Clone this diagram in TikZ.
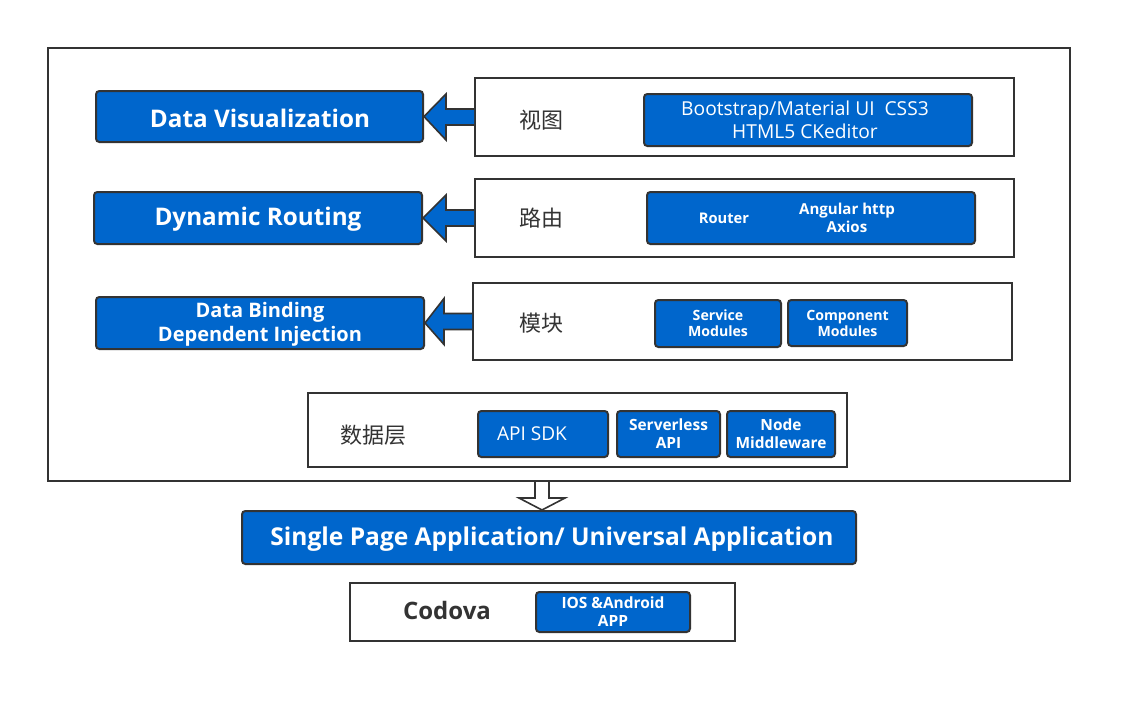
\documentclass[tikz,border=0pt]{standalone}
\usepackage{fontspec}
\setmainfont{Open Sans}
\newfontfamily\cjk{Noto Sans CJK SC}
\usetikzlibrary{calc}
\definecolor{bluefill}{RGB}{0,102,204}
\definecolor{edge}{RGB}{51,51,51}
\def\px{0.75pt}
\begin{document}
\begin{tikzpicture}[x=0.75pt,y=-0.75pt,
  frame/.style={draw=edge,line width=1.5pt,fill=white,inner sep=0pt},
  bluebox/.style={draw=edge,line width=1.5pt,fill=bluefill,rounded corners=2.5pt,inner sep=0pt,
    text=white,font=\bfseries,align=center},
  lighttext/.style={text=white,align=center,inner sep=0pt},
  cjklabel/.style={text=edge,font=\cjk\fontsize{16.5}{18}\selectfont,inner sep=0pt},
  blockarrow/.style={draw=edge,line width=1.2pt,fill=bluefill,line join=miter},
  hollowarrow/.style={draw=edge,line width=1.2pt,fill=white,line join=miter}]
\useasboundingbox (0,0) rectangle (1132,703);

% outer container
\node[frame,minimum width=1022*\px,minimum height=433*\px] (outer) at (559,264.5) {};

% row 1: view layer
\node[bluebox,minimum width=327*\px,minimum height=51*\px] (b1) at (259.5,116.5) {};
\node[lighttext,font=\bfseries\fontsize{18.2}{20}\selectfont] (t1) at (260,118) {Data Visualization};
\node[frame,minimum width=539*\px,minimum height=78*\px] (w1) at (744.5,117) {};
\node[cjklabel] (l1) at (541,120) {视图};
\node[bluebox,minimum width=328*\px,minimum height=52*\px] (i1) at (808,120) {};
\node[lighttext,font=\fontsize{14.4}{17.2}\selectfont] (it1) at (805,120) {Bootstrap/Material UI\ \ CSS3\\HTML5 CKeditor};

% row 2: routing
\node[bluebox,minimum width=328*\px,minimum height=52*\px] (b2) at (258,218) {};
\node[lighttext,font=\bfseries\fontsize{18.2}{20}\selectfont] (t2) at (258,219.5) {Dynamic Routing};
\node[frame,minimum width=539*\px,minimum height=78*\px] (w2) at (744.5,218) {};
\node[cjklabel] (l2) at (541,218) {路由};
\node[bluebox,minimum width=328*\px,minimum height=52*\px] (i2) at (811,218) {};
\node[lighttext,font=\bfseries\fontsize{11}{13.5}\selectfont] (r1) at (724,218) {Router};
\node[lighttext,font=\bfseries\fontsize{11.3}{13.5}\selectfont] (r2) at (847,218) {Angular http\\Axios};

% row 3: modules
\node[bluebox,minimum width=328*\px,minimum height=52*\px] (b3) at (260,323) {};
\node[lighttext,font=\bfseries\fontsize{15}{18}\selectfont] (t3) at (260,324.5) {Data Binding\\Dependent Injection};
\node[frame,minimum width=539*\px,minimum height=77*\px] (w3) at (742.5,321.5) {};
\node[cjklabel] (l3) at (541,323) {模块};
\node[bluebox,minimum width=126*\px,minimum height=47*\px,font=\bfseries\fontsize{10.6}{12}\selectfont] (s1) at (718,323.5) {Service\\Modules};
\node[bluebox,minimum width=119*\px,minimum height=46*\px,font=\bfseries\fontsize{10.6}{12}\selectfont] (s2) at (847.5,323) {Component\\Modules};

% data layer
\node[frame,minimum width=539*\px,minimum height=74*\px] (w4) at (577.5,430) {};
\node[cjklabel] (l4) at (373,435) {数据层};
\node[bluebox,minimum width=130*\px,minimum height=46*\px] (d1) at (543,434) {};
\node[lighttext,font=\fontsize{14.3}{16}\selectfont] (dt1) at (532,434) {API SDK};
\node[bluebox,minimum width=103*\px,minimum height=46*\px,font=\bfseries\fontsize{11.6}{13.5}\selectfont] (d2) at (668.5,434) {Serverless\\API};
\node[bluebox,minimum width=108*\px,minimum height=46*\px,font=\bfseries\fontsize{11.6}{13.5}\selectfont] (d3) at (781,434) {Node\\Middleware};

% application
\node[bluebox,minimum width=614*\px,minimum height=53*\px] (spa) at (549,537.5) {};
\node[lighttext,font=\bfseries\fontsize{18.4}{20}\selectfont] (spat) at (552,539) {Single Page Application/ Universal Application};
\node[frame,minimum width=385*\px,minimum height=58*\px] (cod) at (542.5,612) {};
\node[text=edge,font=\bfseries\fontsize{18}{20}\selectfont,inner sep=0pt] (codl) at (447,610) {Codova};
\node[bluebox,minimum width=154*\px,minimum height=40*\px,font=\bfseries\fontsize{11.6}{13.5}\selectfont] (ios) at (613,612) {IOS \&Android\\APP};

% left-pointing block arrows from each layer to its feature
\foreach \w/\b in {w1/b1,w2/b2,w3/b3}{
  \draw[blockarrow] ($(\w.west)+(0,-8)$) -- ++(-28,0) -- ++(0,-15) -- (\b.east)
    -- ($(\w.west)+(-28,23)$) -- ++(0,-15) -- ($(\w.west)+(0,8)$);
}

% hollow down arrow from the container to the application box
\draw[hollowarrow] ($(outer.south)+(-24,0)$) -- ++(0,16) -- ++(-16,0) -- ($(spa.north)+(-7,0)$)
  -- ($(outer.south)+(6,16)$) -- ++(-16,0) -- ++(0,-16);
\end{tikzpicture}
\end{document}
